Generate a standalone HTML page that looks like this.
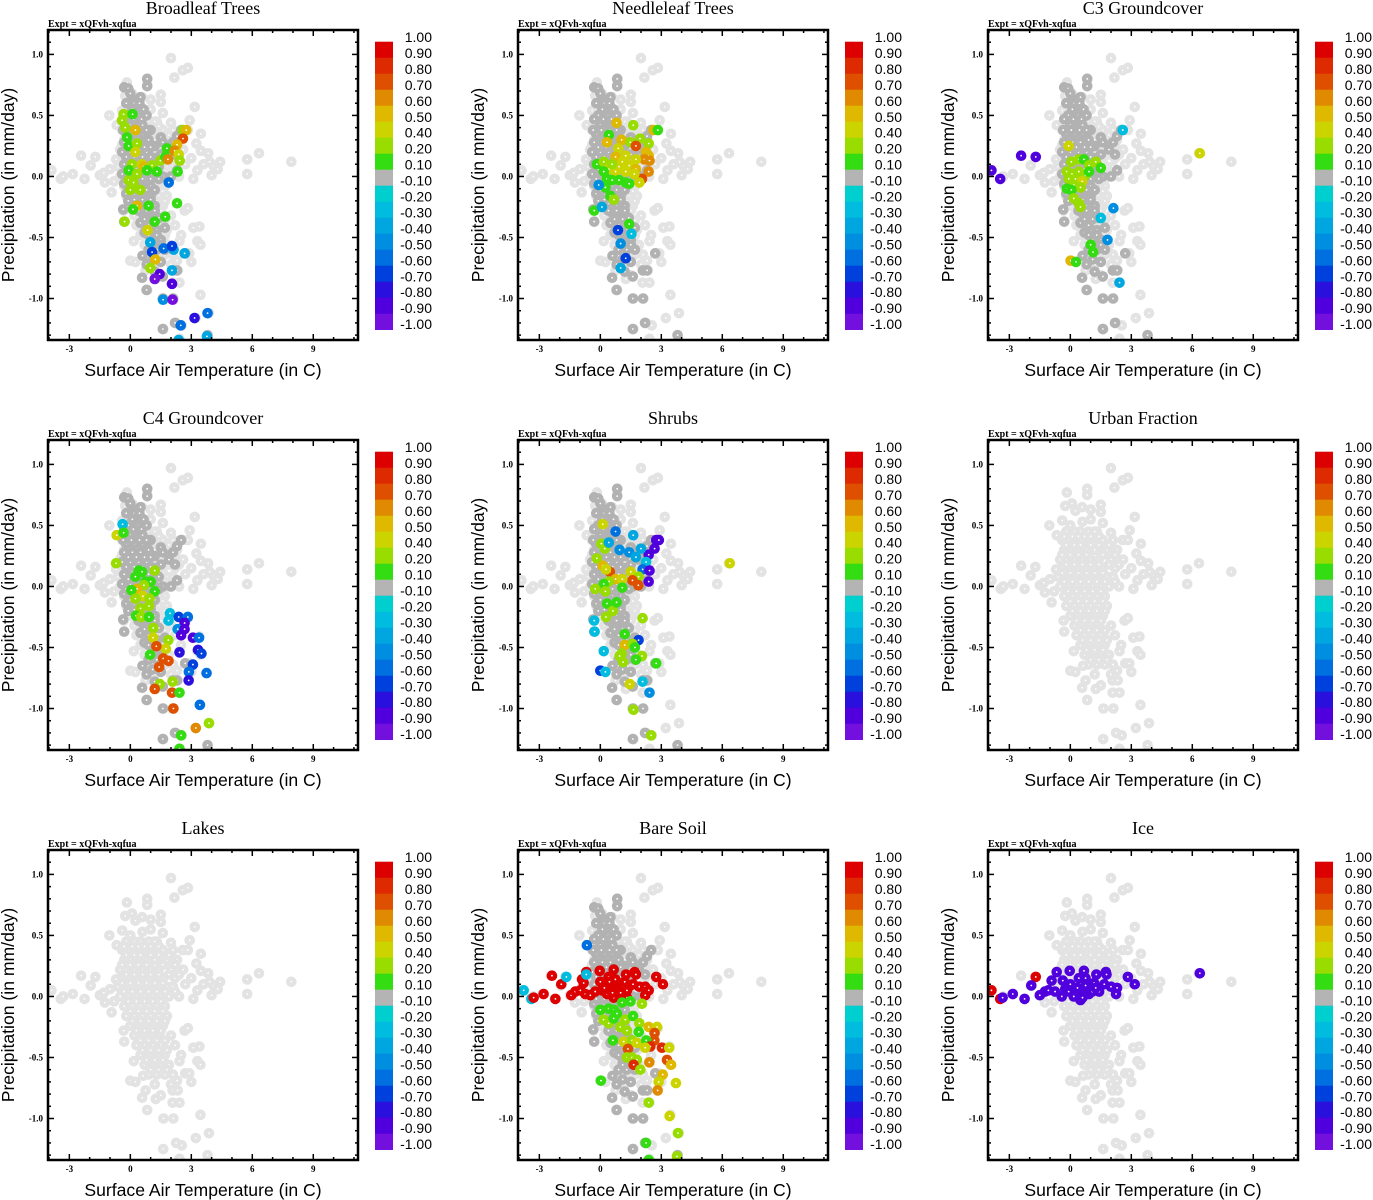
<!DOCTYPE html>
<html><head><meta charset="utf-8"><style>
html,body{margin:0;padding:0;background:#fff;}
svg{display:block;}
.ttl{font-family:"Liberation Serif",serif;font-size:18px;}
.exp{font-family:"Liberation Serif",serif;font-size:10px;font-weight:bold;}
.axl{font-family:"Liberation Sans",sans-serif;font-size:17.6px;}
.tk{font-family:"Liberation Serif",serif;font-size:9px;font-weight:bold;}
.cb{font-family:"Liberation Sans",sans-serif;font-size:14px;}
</style></head><body>
<svg id="fig" xmlns="http://www.w3.org/2000/svg" width="1373" height="1200" viewBox="0 0 1373 1200"></svg>
<script>
const panelTitles = ["Broadleaf Trees","Needleleaf Trees","C3 Groundcover","C4 Groundcover","Shrubs","Urban Fraction","Lakes","Bare Soil","Ice"];
const xTicks = [-3,0,3,6,9];
const yTicks = [1.0,0.5,0.0,-0.5,-1.0];
const cbLabels = ["1.00","0.90","0.80","0.70","0.60","0.50","0.40","0.20","0.10","-0.10","-0.20","-0.30","-0.40","-0.50","-0.60","-0.70","-0.80","-0.90","-1.00"];
const cbColors = ["#dd0000","#dd2a00","#de5000","#df8a00","#dfb800","#ccd400","#99dc00","#33dd11","#b4b4b4","#00cfcf","#00bde0","#00a6e0","#008ee0","#0070e0","#0040dd","#2a10dd","#5000dd","#7410dd"];
const cbValues = [0.95,0.85,0.75,0.65,0.55,0.45,0.3,0.15,0,-0.15,-0.25,-0.35,-0.45,-0.55,-0.65,-0.75,-0.85,-0.95];

const baseT1 = [2.0,2.17,2.58,2.83,-0.17,0.83,0.83,-0.25,0.08,0.25,0.58,1.0,1.5,1.5,-1.03,-0.67,-0.4,0,0.6,1.0,1.3,1.6,2.0,3.17,2.92,2.58,2.83,3.47,3.25,3.47,3.83,-2.42,-1.72,-1.95,-3.88,-3.42,-3.3,-2.83,-2.25,-1.5,-1.25,-0.92,-1.3,-1.0,-0.7,-0.8,5.75,6.33,7.92,5.75,11.4,4.08,4.42,4.0,4.3,3.9,3.6,3.3,3.0,2.7,3.1,2.4,
 -0.2,0.2,0.5,0.9,1.2, -0.4,-0.1,0.3,0.7,1.1,1.6,2.1, -0.3,0.0,0.4,0.8,1.2,1.8,2.3, -0.5,-0.2,0.2,0.6,1.0,1.4,2.0,2.6, -0.4,0.0,0.4,0.8,1.2,1.6,2.2, -0.6,-0.2,0.2,0.6,1.0,1.4,1.8,2.1, -0.5,-0.1,0.3,0.7,1.1,1.5,1.9, -0.3,0.1,0.5,0.9,1.3,1.7, -0.2,0.2,0.6,1.0,1.4,1.8, 0.0,0.4,0.8,1.2,1.6, 0.2,0.6,1.0,1.4,2.0, 0.3,0.7,1.1,1.5,2.2, 0.5,0.9,1.3,1.7,2.5, 0.7,1.1,1.5,1.9, 0.9,1.3,1.7,2.1,
 -0.33,-0.3,0.17,0,0.25,0.63,0.75,0.58,1.25,0.83,1.5,2.08,2.33,2.08,2.42,1.63,2.12,3.45,3.87,3.22,2.25,2.53,1.62,3.8,2.42,2.67,2.83,3.1,3.4,2.42,3.3,3.45,2.7,2.9,2.0,2.3,3.0,1.2];
const baseP1 = [0.97,0.81,0.87,0.89,0.77,0.80,0.75,0.66,0.68,0.62,0.65,0.63,0.67,0.61,0.5,0.42,0.54,0.5,0.53,0.55,0.45,0.52,0.44,0.57,0.46,0.38,0.38,0.35,0.27,0.21,0.19,0.17,0.16,0.09,0.05,-0.02,0.0,0.02,-0.02,0.01,-0.05,-0.13,0.03,0.06,0.14,-0.04,0.14,0.19,0.12,0.02,0.22,0.09,0.12,0.01,0.06,0.12,0.1,0.05,0.15,0.1,-0.02,0.0,
 0.45,0.45,0.45,0.45,0.45, 0.38,0.38,0.38,0.38,0.38,0.38,0.38, 0.30,0.30,0.30,0.30,0.30,0.30,0.30, 0.22,0.22,0.22,0.22,0.22,0.22,0.22,0.22, 0.15,0.15,0.15,0.15,0.15,0.15,0.15, 0.08,0.08,0.08,0.08,0.08,0.08,0.08,0.08, 0.0,0.0,0.0,0.0,0.0,0.0,0.0, -0.08,-0.08,-0.08,-0.08,-0.08,-0.08, -0.16,-0.16,-0.16,-0.16,-0.16,-0.16, -0.24,-0.24,-0.24,-0.24,-0.24, -0.32,-0.32,-0.32,-0.32,-0.32, -0.40,-0.40,-0.40,-0.40,-0.40, -0.48,-0.48,-0.48,-0.48,-0.48, -0.56,-0.56,-0.56,-0.56, -0.64,-0.64,-0.64,-0.64,
 -0.28,-0.37,-0.53,-0.69,-0.70,-0.65,-0.77,-0.83,-0.84,-0.93,-0.81,-0.77,-0.77,-0.87,-0.87,-1.0,-1.0,-0.97,-1.12,-1.16,-1.2,-1.22,-1.25,-1.3,-1.33,-0.28,-0.26,-0.42,-0.41,-0.53,-0.53,-0.56,-0.63,-0.63,-0.72,-0.69,-0.70,-0.72];
const baseT2 = [-0.3,0.1,0.4,0.7,1.0,1.4, -0.2,0.2,0.5,1.0,1.4,1.9, -0.4,0.0,0.4,0.8,1.6,2.2, -0.2,0.2,0.6,1.0,1.4,1.9,2.4, -0.4,0.0,0.4,0.8,1.2,1.6, -0.3,0.1,0.5,0.9,1.3,1.7,2.2, -0.1,0.3,0.7,1.1,1.5, 0.0,0.4,0.8,1.2,1.6, 0.1,0.5,0.9,1.3,1.7, 0.3,0.7,1.1,1.5, 0.5,0.9,1.3,1.7, 0.6,1.0,1.4,1.8, 0.8,1.2,1.6, 1.0,1.4,1.8];
const baseP2 = [0.41,0.41,0.41,0.41,0.41,0.41, 0.34,0.34,0.34,0.34,0.34,0.34, 0.26,0.26,0.26,0.26,0.26,0.26, 0.18,0.18,0.18,0.18,0.18,0.18,0.18, 0.11,0.11,0.11,0.11,0.11,0.11, 0.04,0.04,0.04,0.04,0.04,0.04,0.04, -0.04,-0.04,-0.04,-0.04,-0.04, -0.12,-0.12,-0.12,-0.12,-0.12, -0.2,-0.2,-0.2,-0.2,-0.2, -0.28,-0.28,-0.28,-0.28, -0.36,-0.36,-0.36,-0.36, -0.44,-0.44,-0.44,-0.44, -0.52,-0.52,-0.52, -0.6,-0.6,-0.6];

const darkT1 = [0.83,0.83,-0.3,-0.1,0,0.5,0.15,0.3,0.65,0.1,-0.1,0.4,0.8,0.3,0.0,0.6,1.0,2.5,2.3,1.5,2.1,-0.2,0.2,0.6,0.9,1.6,1.9,-0.3,0.1,0.5,1.2,2.2,1.5,-0.4,0.0,0.4,0.8,1.2,2.3,-0.3,0.1,0.5,0.9,1.4,-0.4,0.0,0.4,0.8,1.2,1.6,2.0,-0.3,0.2,0.6,1.0,-0.2,0.2,0.6,1.0,-0.1,0.4,0.8,1.2,-0.35,-0.3,0.6,1.0,1.4,0.5,0.9,1.3,1.7,0.7,1.1,1.5,0.9,1.3,1.7,0.6,1.1,1.5,0.8,1.2,0.58,1.6,2.1,2.3,0.8,1.6,2.1,2.7,2.2,1.6,3.8];
const darkP1 = [0.80,0.74,0.73,0.72,0.68,0.65,0.63,0.58,0.55,0.55,0.5,0.5,0.5,0.45,0.42,0.42,0.38,0.38,0.33,0.32,0.28,0.35,0.35,0.35,0.3,0.28,0.22,0.28,0.28,0.28,0.25,0.18,0.18,0.2,0.2,0.2,0.2,0.15,0.05,0.1,0.12,0.12,0.1,0.08,0.02,0.02,0.03,0.02,0.0,0.0,0.0,-0.06,-0.06,-0.08,-0.08,-0.14,-0.15,-0.16,-0.16,-0.2,-0.22,-0.24,-0.24,-0.27,-0.37,-0.3,-0.32,-0.34,-0.38,-0.4,-0.44,-0.42,-0.46,-0.52,-0.52,-0.6,-0.6,-0.6,-0.65,-0.68,-0.7,-0.72,-0.78,-0.83,-0.82,-0.77,-0.77,-0.93,-1.0,-1.0,-0.63,-1.2,-1.25,-1.3];
const darkT2 = [-0.2,0.2,0.45, -0.3,0.15,0.55, -0.35,0.05,0.45,0.8, -0.1,0.3,0.7,1.0, -0.2,0.2,0.6,1.0, -0.1,0.3,0.7,1.1, -0.2,0.2,0.6,1.0,1.4, 0.0,0.4,0.8,1.2, 0.2,0.6,1.0, 0.4,0.8,1.2, 0.7,1.1, 0.9,1.3, 1.1,1.5];
const darkP2 = [0.6,0.6,0.6, 0.47,0.47,0.47, 0.38,0.38,0.38,0.38, 0.24,0.24,0.24,0.24, 0.16,0.16,0.16,0.16, 0.06,0.06,0.06,0.06, -0.02,-0.02,-0.02,-0.02,-0.02, -0.11,-0.11,-0.11,-0.11, -0.19,-0.19,-0.19, -0.28,-0.28,-0.28, -0.35,-0.35, -0.48,-0.48, -0.56,-0.56];
const showDark = [true,true,true,true,true,false,false,true,false];

const p1T=[-0.33,0.11,-0.41,-0.25,-0.16,0.25,-0.08,0.33,0.25,0.08,0.57,0.66,1.07,1.31,1.48,1.72,1.80,2.59,2.75,2.59,2.30,2.18,2.38,2.43,1.85,2.33,-0.08,0.16,0,0.49,-0.08,0.33,0.82,0.33,0.13,0.9,2.3,-0.28,1.2,1.72,0.85,0.98,1.07,1.64,2.13,2.05,2.67,1.23,0.98,2.05,1.44,1.2,2.05,1.61,2.08,3.16,3.8,2.48,3.77,2.38,1.89];
const p1P=[0.51,0.51,0.46,0.40,0.32,0.38,0.25,0.27,0.20,0.10,0.10,0.08,0.09,0.04,0.13,0.16,0.23,0.38,0.38,0.31,0.26,0.21,0.18,0.13,0.14,0.04,-0.03,-0.05,-0.11,-0.11,0.05,0.02,0.05,-0.24,-0.27,-0.24,-0.22,-0.37,-0.37,-0.33,-0.44,-0.54,-0.62,-0.59,-0.60,-0.57,-0.63,-0.68,-0.75,-0.77,-0.80,-0.84,-0.88,-1.01,-1.01,-1.16,-1.12,-1.22,-1.31,-1.34,-0.05];
const p1V=[0.3,0.1,0.3,0.3,0.15,0.55,0.15,0.3,0.45,0.3,0.45,0.55,0.3,0.15,0.2,0.15,0.15,0.3,0.55,0.75,0.55,0.65,0.45,0.3,0.65,0.15,0.2,0.3,0.2,0.3,0.15,0.2,0.15,0.55,0.15,0.15,0.15,0.2,0.15,0.15,0.45,-0.3,-0.6,-0.55,-0.35,-0.6,-0.3,0.55,0.25,-0.3,-0.8,-0.9,-0.85,-0.45,-0.9,-0.7,-0.5,-0.55,-0.35,-0.35,-0.5];

const p2T=[0.8,1.62,2.62,2.83,0.42,0.33,1.05,1.47,1.95,1.75,2.38,0.88,2.25,2.38,2.17,2.42,2.38,2.05,1.92,-0.17,0.17,0.75,1.25,1.75,0.42,0.92,1.42,1.75,0.75,1.25,1.67,0.58,1.08,0.17,0.33,0.58,0.92,1.25,0.25,1.42,0.5,0.67,-0.3,1.42,1.53,0.87,1.0,1.25,1.0,-0.08,0.08];
const p2P=[0.44,0.42,0.38,0.38,0.34,0.28,0.30,0.28,0.31,0.25,0.27,0.23,0.2,0.17,0.14,0.13,0.04,-0.02,-0.05,0.10,0.12,0.16,0.17,0.14,0.06,0.08,0.09,0.06,0.04,0.04,0.02,0.1,0.12,0.04,-0.02,-0.03,-0.03,-0.05,-0.09,-0.06,-0.16,-0.19,-0.28,-0.39,-0.47,-0.44,-0.55,-0.67,-0.75,-0.07,-0.25];
const p2V=[0.55,0.25,0.55,0.15,0.15,0.5,0.55,0.3,0.3,0.7,0.3,0.45,0.55,0.5,0.65,0.6,0.65,0.7,0.45,0.15,0.3,0.55,0.45,0.45,0.45,0.45,0.45,0.55,0.4,0.4,0.45,0.3,0.4,0.15,0.15,0.15,0.15,0.15,0.15,0.15,0.15,0.3,0.15,0.15,-0.2,-0.6,-0.45,-0.65,-0.3,-0.4,-0.35];

const p3T=[-2.42,-1.7,-3.88,-3.45,6.37,-0.08,2.58,0.42,0.67,0.05,1.25,1.5,-0.17,0.08,0.42,0.75,-0.08,0.25,0.58,0.17,0.5,-0.17,0.05,0.17,0.42,0.5,0.92,0.92,2.12,1.5,1.83,1.0,1.12,0.02,0.28,2.42];
const p3P=[0.17,0.16,0.05,-0.02,0.19,0.25,0.38,0.14,0.14,0.12,0.12,0.07,0.04,0.02,0.04,0.01,-0.02,-0.02,-0.04,-0.07,-0.09,-0.1,-0.11,-0.18,-0.22,-0.25,0.09,0.04,-0.26,-0.34,-0.52,-0.56,-0.62,-0.69,-0.70,-0.87];
const p3V=[-0.85,-0.85,-0.85,-0.85,0.45,0.45,-0.25,0.2,0.15,0.2,0.2,0.15,0.2,0.2,0.2,0.2,0.2,0.2,0.45,0.2,0.2,0.15,0.15,0.2,0.2,0.2,0.2,0.15,-0.45,-0.2,-0.45,0.15,0.15,0.55,0.15,-0.35];

const p4T=[-0.38,-0.67,-0.33,-0.7,0.42,0.58,1.2,0.25,0.75,1.0,0.67,0.33,0.05,1.2,0.62,0.25,0.95,0.5,0.92,0.28,0.53,0.92,1.95,2.38,2.83,1.88,2.67,2.33,2.67,2.5,3.08,3.38,1.13,1.12,1.87,1.75,1.28,0.97,2.42,3.33,3.5,1.62,1.88,1.42,3.08,2.88,2.87,3.75,1.45,2.08,1.2,2.05,2.42,2.12,3.42,3.87,3.22,2.5,2.42];
const p4P=[0.51,0.42,0.44,0.19,0.13,0.12,0.13,0.08,0.04,0.04,0.01,-0.02,-0.03,-0.04,-0.08,-0.1,-0.1,-0.18,-0.16,-0.24,-0.25,-0.25,-0.22,-0.25,-0.25,-0.28,-0.3,-0.35,-0.35,-0.4,-0.42,-0.42,-0.34,-0.42,-0.44,-0.51,-0.49,-0.56,-0.54,-0.52,-0.55,-0.59,-0.61,-0.66,-0.64,-0.70,-0.77,-0.71,-0.8,-0.78,-0.84,-0.87,-0.87,-1.0,-0.97,-1.12,-1.16,-1.22,-1.33];
const p4V=[-0.25,0.45,0.15,0.3,0.15,0.15,0.3,0.15,0.15,0.15,0.3,0.5,0.15,0.15,0.45,0.2,0.2,0.2,0.2,0.15,0.3,0.15,-0.25,-0.6,-0.5,-0.2,-0.8,-0.4,-0.8,-0.8,-0.8,-0.5,0.3,0.45,0.3,0.45,0.75,0.15,-0.7,-0.7,-0.6,0.75,0.75,0.75,-0.6,-0.5,-0.75,-0.5,0.25,0.3,0.75,0.75,0.15,0.75,-0.5,0.3,0.6,0.15,0.15];

const p5T=[0.12,0.05,0.22,0.42,0.75,1.62,2.75,2.88,2.67,2.38,0.95,1.42,1.75,2.0,2.25,2.08,2.42,2.38,1.5,1.88,1.58,1.87,-0.17,0.12,0.47,0.28,0.75,1.08,0.42,0.17,-0.25,0.25,1.08,0.33,0.62,0.28,0.8,-0.3,-0.28,2.08,1.2,1.88,1.2,1.58,1.7,0.17,1.05,0.95,1.12,2.05,1.75,2.75,0,0.25,1.45,2.08,2.42,1.63,2.5,6.37];
const p5P=[0.51,0.35,0.31,0.36,0.45,0.42,0.38,0.38,0.31,0.26,0.3,0.28,0.24,0.31,0.2,0.14,0.13,0.04,0.12,0.08,0.05,0.01,0.23,0.17,0.12,0.14,0.06,0.06,0.04,0.02,-0.02,-0.04,-0.01,-0.14,-0.2,-0.25,-0.13,-0.28,-0.37,-0.26,-0.39,-0.44,-0.48,-0.47,-0.5,-0.53,-0.55,-0.57,-0.62,-0.57,-0.6,-0.63,-0.69,-0.70,-0.8,-0.78,-0.87,-1.01,-1.22,0.19];
const p5V=[0.45,0.2,0.3,-0.3,-0.5,-0.3,-0.85,-0.85,-0.8,-0.8,-0.4,-0.4,-0.3,-0.3,-0.25,-0.5,-0.85,-0.8,0.45,0.3,0.7,0.75,0.3,0.55,0.7,0.45,0.5,0.45,0.2,0.15,0.3,0.3,0.15,0.15,0.3,0.3,0.15,-0.25,-0.25,0.3,0.15,-0.6,0.55,0.3,0.15,-0.25,0.3,0.3,0.3,0.3,0.15,0.15,-0.6,-0.25,0.45,-0.25,-0.4,0.3,0.3,0.45];

const p6T=[], p6P=[], p6V=[];
const p7T=[], p7P=[], p7V=[];

const p8T=[-3.77,-3.39,-3.28,-2.79,-2.21,-2.38,-1.92,-1.67,-1.43,-1.23,-0.98,-0.9,-0.82,-0.69,-0.69,-0.66,-0.74,-0.49,-0.25,-0.03,0.66,0.41,0.74,1.26,1.69,1.75,0,0.33,0.57,0.82,0.98,1.15,1.31,1.48,0.33,0.66,0.98,1.31,0.08,0.49,1.61,1.92,2.21,2.38,2.21,2.75,3.08,0.2,0.6,1.0,1.2,0.45,
 0,0.41,0.66,1.07,1.48,2.05,0.16,0.41,0.66,0.82,0.98,1.23,1.61,1.31,1.92,2.38,2.79,1.89,2.67,2.66,0.62,1.15,1.56,1.8,2.26,2.46,2.21,3.03,3.39,1.36,1.31,1.56,1.8,1.64,1.97,2.41,3.28,3.48,3.07,2.87,2.82,3.72,0.03,2.38,3.41,3.82,2.25,3.77,2.38];
const p8P=[0.05,-0.02,-0.01,0.02,-0.02,0.17,0.1,0.16,0.01,0.04,0.05,0.14,0.11,0.2,0.18,0.42,0.02,0.01,0.04,0.21,0.22,0.16,0.14,0.18,0.2,0.18,0.12,0.10,0.08,0.05,0.10,0.08,0.05,0.09,0.02,-0.01,0.01,-0.01,0.05,0.05,0.1,0.08,0.08,0.05,0.01,0.16,0.1,0.07,0.03,0.03,0.12,0.12,
 -0.11,-0.1,-0.11,-0.05,-0.04,-0.06,-0.19,-0.22,-0.18,-0.14,-0.25,-0.19,-0.16,-0.28,-0.22,-0.25,-0.25,-0.29,-0.30,-0.36,-0.36,-0.37,-0.36,-0.38,-0.36,-0.41,-0.42,-0.42,-0.42,-0.43,-0.5,-0.5,-0.52,-0.56,-0.6,-0.54,-0.52,-0.56,-0.64,-0.70,-0.77,-0.71,-0.69,-0.87,-0.98,-1.12,-1.20,-1.31,-1.34];
const p8V=[-0.25,-0.25,0.95,0.95,0.95,0.95,0.95,-0.25,0.95,0.95,0.95,0.95,0.95,0.95,-0.25,-0.55,0.95,0.95,0.95,0.95,0.95,0.95,0.95,0.95,0.95,0.95,0.95,0.95,0.95,0.95,0.95,0.95,0.95,0.95,0.95,0.95,0.95,0.95,0.95,0.95,0.95,0.95,0.95,0.95,0.95,0.95,0.95,0.95,0.95,0.95,0.95,0.95,
 0.15,0.15,0.15,0.15,0.15,0.25,0.3,0.3,0.15,0.15,0.25,0.2,0.15,0.25,0.25,0.55,0.45,0.15,0.75,0.75,0.15,0.4,0.35,0.4,0.15,0.8,0.45,0.8,0.45,0.75,0.25,0.25,0.25,0.8,0.25,0.65,0.7,0.55,0.55,0.45,0.65,0.45,0.15,0.25,0.45,0.3,0.15,0.3,0.15];

const p9T=[-3.88,-3.45,-1.7,-3.33,-2.83,-2.25,-1.92,-1.5,-1.25,-1.08,-0.75,-0.92,-0.67,-0.37,-0.03,0.67,1.28,1.75,1.78,2.83,3.17,6.37,0.75,0.42,1.17,1.67,2.0,2.3,2.25,-0.25,-0.08,0.08,0.25,0.5,0.75,0.92,1.08,1.42,-0.42,0.5,0.17,0.75,0.35,0.6,1.25,0.0];
const p9P=[0.05,-0.02,0.16,-0.01,0.02,-0.02,0.09,0.01,0.04,0.05,0.04,0.13,0.2,0.13,0.21,0.21,0.18,0.2,0.18,0.16,0.1,0.19,0.15,0.15,0.11,0.1,0.08,0.07,0.02,0.06,0.04,0.08,0.04,0.01,0.05,0.02,0.04,0.04,0.0,-0.03,0.0,0.09,0.07,-0.01,0.07,0.1];
const p9V=[0.95,0.95,0.95,-0.85,-0.85,-0.85,-0.85,-0.85,-0.85,-0.85,-0.85,-0.85,-0.85,-0.85,-0.85,-0.85,-0.85,-0.85,-0.85,-0.85,-0.85,-0.85,-0.85,-0.85,-0.85,-0.85,-0.85,-0.85,-0.85,-0.85,-0.85,-0.85,-0.85,-0.85,-0.85,-0.85,-0.85,-0.85,-0.85,-0.85,-0.85,-0.85,-0.85,-0.85,-0.85,-0.85];

const baseT=baseT1.concat(baseT2), baseP=baseP1.concat(baseP2);
const darkT=darkT1.concat(darkT2), darkP=darkP1.concat(darkP2);
const colT=[p1T,p2T,p3T,p4T,p5T,p6T,p7T,p8T,p9T];
const colP=[p1P,p2P,p3P,p4P,p5P,p6P,p7P,p8P,p9P];
const colV=[p1V,p2V,p3V,p4V,p5V,p6V,p7V,p8V,p9V];

const NS="http://www.w3.org/2000/svg";
const svg=document.getElementById('fig');
function mk(tag,attrs,parent){const e=document.createElementNS(NS,tag);for(const k in attrs)e.setAttribute(k,attrs[k]);(parent||svg).appendChild(e);return e;}
const XMIN=-4.05,XMAX=11.2,YMIN=-1.34,YMAX=1.2,PL=48,PT=30,PW=310,PH=310;
function colorFor(v){
  if(v>=0.9)return cbColors[0];if(v>=0.8)return cbColors[1];if(v>=0.7)return cbColors[2];if(v>=0.6)return cbColors[3];
  if(v>=0.5)return cbColors[4];if(v>=0.4)return cbColors[5];if(v>=0.2)return cbColors[6];if(v>=0.1)return cbColors[7];
  if(v>-0.1)return cbColors[8];if(v>-0.2)return cbColors[9];if(v>-0.3)return cbColors[10];if(v>-0.4)return cbColors[11];
  if(v>-0.5)return cbColors[12];if(v>-0.6)return cbColors[13];if(v>-0.7)return cbColors[14];if(v>-0.8)return cbColors[15];
  if(v>-0.9)return cbColors[16];return cbColors[17];
}
const defs=mk('defs',{});
for(let i=0;i<9;i++){
  const ox=(i%3)*470, oy=Math.floor(i/3)*410;
  const xs=t=>ox+PL+(t-XMIN)/(XMAX-XMIN)*PW;
  const ys=p=>oy+PT+(YMAX-p)/(YMAX-YMIN)*PH;
  const g=mk('g',{});
  
  
  const t=mk('text',{x:ox+203,y:oy+14,'text-anchor':'middle',class:'ttl'},g);t.textContent=panelTitles[i];
  
  
  const ex=mk('text',{x:ox+48,y:oy+27,class:'exp'},g);ex.textContent='Expt = xQFvh-xqfua';
  
  
  const cp=mk('clipPath',{id:'cp'+i},defs);mk('rect',{x:ox+PL,y:oy+PT,width:PW,height:PH},cp);
  const pts=mk('g',{'clip-path':'url(#cp'+i+')'},g);
  
  
  function dot(tv,pv,c){
    const cx=xs(tv),cy=ys(pv);
    const c1=mk('circle',{cx:cx,cy:cy,r:5.3,fill:c},pts);
    
    
    mk('circle',{cx:cx,cy:cy,r:0.9,fill:'#fff'},pts);
  }
  for(let k=0;k<baseT.length;k++)dot(baseT[k],baseP[k],'#e3e3e3');
  if(showDark[i])for(let k=0;k<darkT.length;k++)dot(darkT[k],darkP[k],'#b2b2b2');
  for(let k=0;k<colT[i].length;k++)dot(colT[i][k],colP[i][k],colorFor(colV[i][k]));
  const fr=mk('rect',{x:ox+PL,y:oy+PT,width:PW,height:PH,fill:'none',stroke:'#000','stroke-width':2.5},g);
  
  
  for(let v=-4;v<=11;v++){const x=xs(v);const L=(v%3===0)?6:3;
    mk('line',{x1:x,x2:x,y1:oy+PT,y2:oy+PT+L,stroke:'#000','stroke-width':1.5},g);
    mk('line',{x1:x,x2:x,y1:oy+PT+PH,y2:oy+PT+PH-L,stroke:'#000','stroke-width':1.5},g);}
  for(let k=-13;k<=12;k++){const v=k/10;const y=ys(v);const L=(k%5===0)?6:3;
    mk('line',{x1:ox+PL,x2:ox+PL+L,y1:y,y2:y,stroke:'#000','stroke-width':1.5},g);
    mk('line',{x1:ox+PL+PW,x2:ox+PL+PW-L,y1:y,y2:y,stroke:'#000','stroke-width':1.5},g);}
  xTicks.forEach(v=>{const tt=mk('text',{x:xs(v),y:oy+352,'text-anchor':'middle',class:'tk'},g);tt.textContent=String(v);
    
    });
  yTicks.forEach(v=>{const tt=mk('text',{x:ox+43,y:ys(v)+3,'text-anchor':'end',class:'tk'},g);tt.textContent=v.toFixed(1);
    
    });
  const yl=mk('text',{x:0,y:0,transform:'translate('+(ox+14)+','+(oy+185)+') rotate(-90)','text-anchor':'middle',class:'axl'},g);yl.textContent='Precipitation (in mm/day)';
  
  
  const xl=mk('text',{x:ox+203,y:oy+376,'text-anchor':'middle',class:'axl'},g);xl.textContent='Surface Air Temperature (in C)';
  
  
  const cb=mk('g',{},g);
  
  
  cbValues.forEach((v,j)=>{const r=mk('rect',{x:ox+375,y:oy+41.7+16*j,width:18,height:16.3,fill:colorFor(v)},cb);
    
    });
  cbLabels.forEach((s,j)=>{const tt=mk('text',{x:ox+432,y:oy+42+15.95*j,'text-anchor':'end',class:'cb'},cb);tt.textContent=s;
    
    });
}
</script>
</body></html>
